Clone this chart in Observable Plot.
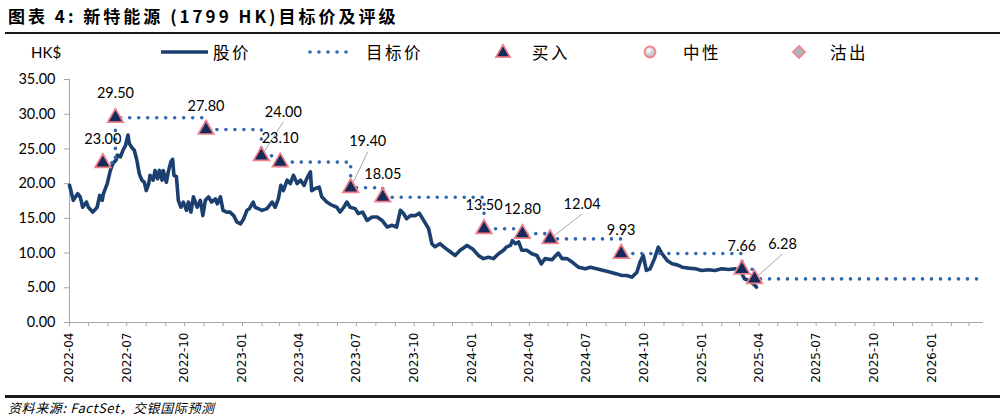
<!DOCTYPE html>
<html><head><meta charset="utf-8">
<script src="https://cdn.jsdelivr.net/npm/d3@7"></script>
<script src="https://cdn.jsdelivr.net/npm/@observablehq/plot@0.6"></script>
<style>
body{margin:0;background:#fff;}
#wrap{position:relative;width:1004px;height:419px;overflow:hidden;font-family:"Noto Sans CJK SC",sans-serif;background:#fff;}
#title{position:absolute;left:8px;top:4px;font-size:17px;line-height:24px;font-weight:bold;letter-spacing:3px;color:#000;white-space:nowrap;}
.rule{position:absolute;left:5px;width:995px;background:#1a1a1a;}
#legend{position:absolute;left:0;top:37px;}
#chart{position:absolute;left:0;top:64px;}
#source{position:absolute;left:8px;top:399px;font-size:13px;line-height:18px;font-style:italic;letter-spacing:0.6px;color:#000;white-space:nowrap;}
</style></head>
<body>
<div id="wrap">
  <div id="title">图表 4: 新特能源 (1799 HK)目标价及评级</div>
  <div class="rule" style="top:32px;height:2px;"></div>
  <svg id="legend" width="1004" height="30"></svg>
  <div id="chart"></div>
  <div class="rule" style="top:395px;height:2.5px;"></div>
  <div id="source">资料来源: FactSet，交银国际预测</div>
</div>
<script>
// ---------- data ----------
const priceDates = [
"2022-04-01","2022-04-07","2022-04-14","2022-04-18","2022-04-22","2022-04-28","2022-05-01","2022-05-08","2022-05-15","2022-05-19",
"2022-05-23","2022-05-25","2022-05-31","2022-06-05","2022-06-09","2022-06-14","2022-06-16","2022-06-21","2022-06-25","2022-06-29",
"2022-07-03","2022-07-05","2022-07-09","2022-07-13","2022-07-17","2022-07-21","2022-07-25","2022-07-29","2022-08-01","2022-08-05",
"2022-08-07","2022-08-12","2022-08-15","2022-08-19","2022-08-22","2022-08-26","2022-08-28","2022-09-02","2022-09-05","2022-09-09",
"2022-09-12","2022-09-14","2022-09-18","2022-09-21","2022-09-25","2022-09-29","2022-10-04","2022-10-07","2022-10-11","2022-10-15",
"2022-10-21","2022-10-26","2022-10-30","2022-11-03","2022-11-08","2022-11-13","2022-11-19","2022-11-22","2022-11-27","2022-12-01",
"2022-12-07","2022-12-12","2022-12-18","2022-12-23","2022-12-29","2023-01-03","2023-01-08","2023-01-12","2023-01-18","2023-01-21",
"2023-01-26","2023-02-01","2023-02-09","2023-02-17","2023-02-22","2023-02-27","2023-03-03","2023-03-07","2023-03-13","2023-03-18",
"2023-03-23","2023-03-29","2023-04-03","2023-04-09","2023-04-13","2023-04-19","2023-04-21","2023-04-27","2023-05-03","2023-05-07",
"2023-05-15","2023-05-23","2023-05-31","2023-06-05","2023-06-11","2023-06-16","2023-06-21","2023-06-29","2023-07-04","2023-07-11",
"2023-07-18","2023-07-26","2023-08-03","2023-08-11","2023-08-19","2023-08-27","2023-09-03","2023-09-09","2023-09-14","2023-09-19",
"2023-09-25","2023-10-03","2023-10-09","2023-10-16","2023-10-24","2023-10-29","2023-11-03","2023-11-11","2023-11-17","2023-11-24",
"2023-12-05","2023-12-13","2023-12-24","2024-01-03","2024-01-11","2024-01-19","2024-01-27","2024-02-04","2024-02-12","2024-02-20",
"2024-02-25","2024-03-02","2024-03-05","2024-03-10","2024-03-15","2024-03-20","2024-03-28","2024-04-05","2024-04-13","2024-04-20",
"2024-04-26","2024-05-07","2024-05-17","2024-05-23","2024-05-31","2024-06-08","2024-06-18","2024-06-29","2024-07-07","2024-07-17",
"2024-07-28","2024-08-08","2024-08-18","2024-08-26","2024-09-03","2024-09-11","2024-09-19","2024-09-24","2024-09-29","2024-10-04",
"2024-10-10","2024-10-17","2024-10-23","2024-10-29","2024-11-06","2024-11-14","2024-11-22","2024-11-30","2024-12-10","2024-12-21",
"2024-12-31","2025-01-11","2025-01-21","2025-02-01","2025-02-12","2025-02-22","2025-03-02","2025-03-09","2025-03-15","2025-03-23",
"2025-03-28"
];
const priceValues = [
19.76,17.6,18.55,18.1,16.6,17.35,16.6,15.9,16.6,18.3,
17.6,18.55,20.0,21.9,22.9,23.4,24.1,23.85,24.8,25.5,
27.0,25.8,25.2,24.8,23.4,21.4,20.5,20.2,19.0,20.0,
21.2,20.5,21.9,20.7,21.9,20.5,21.9,20.2,21.7,23.1,
23.5,21.2,21.0,17.6,16.6,17.35,16.15,17.35,15.9,18.1,
16.6,17.6,15.4,17.6,18.1,17.35,17.8,17.1,18.1,16.15,
15.9,15.9,15.4,14.5,14.2,14.95,16.15,16.4,17.35,16.6,
16.4,16.15,16.4,17.35,16.6,17.8,19.75,19.0,20.5,20.0,
21.2,20.0,20.5,19.75,20.7,21.7,19.0,19.3,19.5,18.1,
17.35,16.9,16.6,15.9,16.6,17.35,16.6,16.4,15.7,15.9,
14.7,15.2,15.2,14.7,13.75,14.0,13.75,16.15,15.7,14.95,
15.4,15.4,15.75,14.7,13.5,11.35,10.9,11.35,10.9,10.4,
9.66,10.4,11.1,10.5,9.66,9.2,9.4,9.2,9.9,10.4,
10.9,11.1,11.8,11.35,11.6,10.4,10.4,9.9,9.66,8.45,
9.2,9.05,10.0,9.2,9.2,8.7,7.97,7.74,7.97,7.74,
7.5,7.25,7.0,6.78,6.78,6.53,7.25,8.7,9.66,7.5,
7.74,9.2,10.86,9.9,8.94,8.45,8.3,7.97,7.83,7.74,
7.5,7.6,7.5,7.74,7.64,7.74,7.5,6.3,6.06,5.58,
5.1
];
const targetDates = ["2022-05-24","2022-06-13","2022-11-04","2023-01-31","2023-03-02","2023-06-22","2023-08-12",
                     "2024-01-20","2024-03-21","2024-05-04","2024-08-25","2025-03-05","2025-03-25"];
const targetValues = [23.00,29.50,27.80,24.00,23.10,19.40,18.05,13.50,12.80,12.04,9.93,7.66,6.28];
const ratings = ["买入","买入","买入","买入","买入","买入","买入","买入","买入","买入","买入","买入","买入"];
const targetEndDate = "2026-03-20";
const axisStart = "2022-04-01", axisEnd = "2026-03-24";
const yTickLabels = ["0.00","5.00","10.00","15.00","20.00","25.00","30.00","35.00"];
const xTickLabels = ["2022-04","2022-07","2022-10","2023-01","2023-04","2023-07","2023-10","2024-01",
                     "2024-04","2024-07","2024-10","2025-01","2025-04","2025-07","2025-10","2026-01"];
const legendLabels = ["股价","目标价","买入","中性","沽出"];

// ---------- annotation layout (pixel offsets of value labels; leader = has a pointer line) ----------
const labelOffsets = [[0,-23],[0,-24],[0,-23],[22,-44],[0,-24],[17,-46],[0,-23],[0,-23],[0,-24],[32,-35],[0,-23],[0,-23],[28,-35]];
const hasLeader   = [false,false,false,true,false,true,false,false,false,true,false,false,true];

// ---------- build ----------
const parse = d3.utcParse("%Y-%m-%d");
const parseM = d3.utcParse("%Y-%m");
const price = priceDates.map((d,i)=>({date:parse(d), value:priceValues[i]}));
const targets = targetDates.map((d,i)=>({date:parse(d), value:targetValues[i], rating:ratings[i], label:targetValues[i].toFixed(2)}));
const targetPath = [...targets.map(t=>({date:t.date,value:t.value})), {date:parse(targetEndDate), value:targetValues[targetValues.length-1]}];
const xDomain = [parse(axisStart), parse(axisEnd)];
const xTicks = xTickLabels.map(s=>parseM(s));
const monthTicks = d3.utcMonth.range(xDomain[0], xDomain[1]);
const yTicks = yTickLabels.map(Number);

const W=1004, H=331, ML=69, MR=21, MT=15, MB=73;
const xS = Plot.scale({x:{type:"utc", domain:xDomain, range:[ML, W-MR]}});
const yS = Plot.scale({y:{domain:[0,35], range:[H-MB, MT]}});
const leaders = targets.map((t,i)=>({t,i})).filter(o=>hasLeader[o.i]).map(({t,i})=>{
  const [dx,dy]=labelOffsets[i];
  return {x1:t.date, y1:t.value,
          x2:xS.invert(xS.apply(t.date)+dx), y2:yS.invert(yS.apply(t.value)+dy+10)};
});

const labelMarks = targets.map((t,i)=>Plot.text([t], {x:"date", y:"value", text:"label",
  dx:labelOffsets[i][0], dy:labelOffsets[i][1], fontSize:14.5, fill:"#000", fontFamily:"Lato"}));

const chart = Plot.plot({
  width:W, height:H, marginLeft:ML, marginRight:MR, marginTop:MT, marginBottom:MB,
  style:{background:"transparent", fontFamily:"Lato", overflow:"visible"},
  x:{type:"utc", domain:xDomain},
  y:{domain:[0,35]},
  marks:[
    Plot.axisY({ticks:yTicks, tickFormat:d=>yTickLabels[yTicks.indexOf(d)], tickSize:5, tickPadding:9,
                stroke:"#a6a6a6", fill:"#000", fontSize:14.5, label:null}),
    Plot.axisX({ticks:monthTicks, tickSize:4, tickFormat:()=>"", stroke:"#a6a6a6", label:null}),
    Plot.axisX({ticks:xTicks, tickSize:0, tickPadding:10, tickRotate:-90,
                tickFormat:d=>xTickLabels[xTicks.findIndex(t=>+t===+d)],
                fontSize:12, fontFamily:"DejaVu Sans", fill:"#000", label:null}),
    Plot.ruleY([0], {stroke:"#a6a6a6"}),
    Plot.ruleX([xDomain[0]], {y1:0, y2:35, stroke:"#a6a6a6"}),
    Plot.lineY(price, {x:"date", y:"value", stroke:"#1b3f6e", strokeWidth:3.6, strokeLinejoin:"round"}),
    Plot.line(targetPath, {x:"date", y:"value", curve:"step-after", stroke:"#2e68ad", strokeWidth:3.6,
                strokeDasharray:"0 9", strokeLinecap:"round"}),
    Plot.link(leaders, {x1:"x1", y1:"y1", x2:"x2", y2:"y2", stroke:"#a6a6a6", strokeWidth:1}),
    Plot.dot(targets, {x:"date", y:"value", symbol:"triangle", r:5.8, fill:"#152b5c", stroke:"#f4808a", strokeWidth:1.7}),
    ...labelMarks
  ]
});
document.getElementById("chart").appendChild(chart);

// ---------- legend ----------
const lg = d3.select("#legend");
const cy = 15;
const defs = lg.append("defs");
const rg = defs.append("radialGradient").attr("id","gcirc").attr("cx","40%").attr("cy","35%").attr("r","70%");
rg.append("stop").attr("offset","0%").attr("stop-color","#ffffff");
rg.append("stop").attr("offset","100%").attr("stop-color","#a9a9a9");
const txt = (x,s,fam,size)=>lg.append("text").attr("x",x).attr("y",cy).attr("dominant-baseline","central")
  .attr("font-family",fam).attr("font-size",size).attr("letter-spacing",fam==="Lato"?0:2.5).attr("fill","#000").text(s);
txt(31,"HK$","Lato",15);
lg.append("line").attr("x1",161).attr("x2",208).attr("y1",cy).attr("y2",cy).attr("stroke","#1b3f6e").attr("stroke-width",3.5);
txt(213,legendLabels[0],"Noto Sans CJK SC",16.5);
lg.append("line").attr("x1",310).attr("x2",355).attr("y1",cy).attr("y2",cy).attr("stroke","#2e68ad").attr("stroke-width",3.6)
  .attr("stroke-dasharray","0 9").attr("stroke-linecap","round");
txt(366,legendLabels[1],"Noto Sans CJK SC",16.5);
lg.append("path").attr("d",d3.symbol(d3.symbolTriangle, Math.PI*5.3*5.3)()).attr("transform",`translate(503,${cy+1})`)
  .attr("fill","#152b5c").attr("stroke","#f4808a").attr("stroke-width",1.7);
txt(532,legendLabels[2],"Noto Sans CJK SC",16.5);
lg.append("circle").attr("cx",650).attr("cy",cy).attr("r",5.5).attr("fill","url(#gcirc)").attr("stroke","#f4868c").attr("stroke-width",1.8);
txt(683,legendLabels[3],"Noto Sans CJK SC",16.5);
lg.append("path").attr("d","M0,-6L6,0L0,6L-6,0Z").attr("transform",`translate(799,${cy})`)
  .attr("fill","#a8b4bf").attr("stroke","#f4868c").attr("stroke-width",1.8);
txt(830,legendLabels[4],"Noto Sans CJK SC",16.5);
</script>
</body></html>
